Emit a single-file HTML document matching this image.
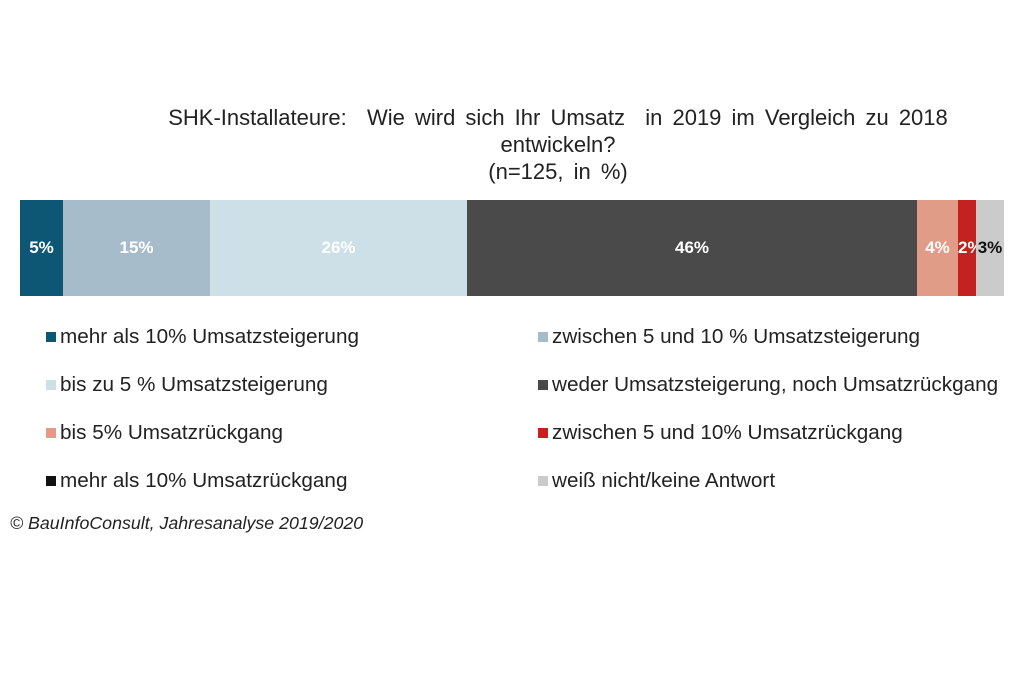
<!DOCTYPE html>
<html><head><meta charset="utf-8"><style>
body{margin:0;width:1024px;height:683px;background:#fff;font-family:"Liberation Sans",Arial,sans-serif;position:relative;overflow:hidden}
.t{position:absolute;left:0;width:1116px;text-align:center;font-size:22px;word-spacing:4px;color:#222;line-height:27px;top:104px}
.seg{position:absolute;top:200px;height:96px;color:#fff;font-weight:bold;font-size:17px;line-height:96px;text-align:center}
.lg{position:absolute;font-size:20.7px;color:#222;line-height:22px}
.lg i{position:absolute;left:-14px;top:6px;width:10px;height:10px}
.src{position:absolute;left:10px;top:513px;font-size:17.8px;font-style:italic;color:#222}
</style></head><body>
<div class="t">SHK-Installateure:&nbsp; Wie wird sich Ihr Umsatz&nbsp; in 2019 im Vergleich zu 2018<br>entwickeln?<br>(n=125, in %)</div>
<div class="seg" style="left:20px;width:43px;background:#0d5775">5%</div>
<div class="seg" style="left:63px;width:147px;background:#a7bccb">15%</div>
<div class="seg" style="left:210px;width:257px;background:#cde0e8">26%</div>
<div class="seg" style="left:467px;width:450px;background:#4a4a4a">46%</div>
<div class="seg" style="left:917px;width:41px;background:#e09c87">4%</div>
<div class="seg" style="left:958px;width:18px;background:#c42121;overflow:visible">2%</div>
<div class="seg" style="left:976px;width:28px;background:#cbcbcb;color:#111">3%</div>
<div class="lg" style="left:60px;top:326px"><i style="background:#0d5775"></i>mehr als 10% Umsatzsteigerung</div>
<div class="lg" style="left:552px;top:326px"><i style="background:#a7bccb"></i>zwischen 5 und 10 % Umsatzsteigerung</div>
<div class="lg" style="left:60px;top:374px"><i style="background:#cde0e8"></i>bis zu 5 % Umsatzsteigerung</div>
<div class="lg" style="left:552px;top:374px"><i style="background:#4a4a4a"></i>weder Umsatzsteigerung, noch Umsatzrückgang</div>
<div class="lg" style="left:60px;top:422px"><i style="background:#e09c87"></i>bis 5% Umsatzrückgang</div>
<div class="lg" style="left:552px;top:422px"><i style="background:#c42121"></i>zwischen 5 und 10% Umsatzrückgang</div>
<div class="lg" style="left:60px;top:470px"><i style="background:#111"></i>mehr als 10% Umsatzrückgang</div>
<div class="lg" style="left:552px;top:470px"><i style="background:#cbcbcb"></i>weiß nicht/keine Antwort</div>
<div class="src">© BauInfoConsult, Jahresanalyse 2019/2020</div>
</body></html>
